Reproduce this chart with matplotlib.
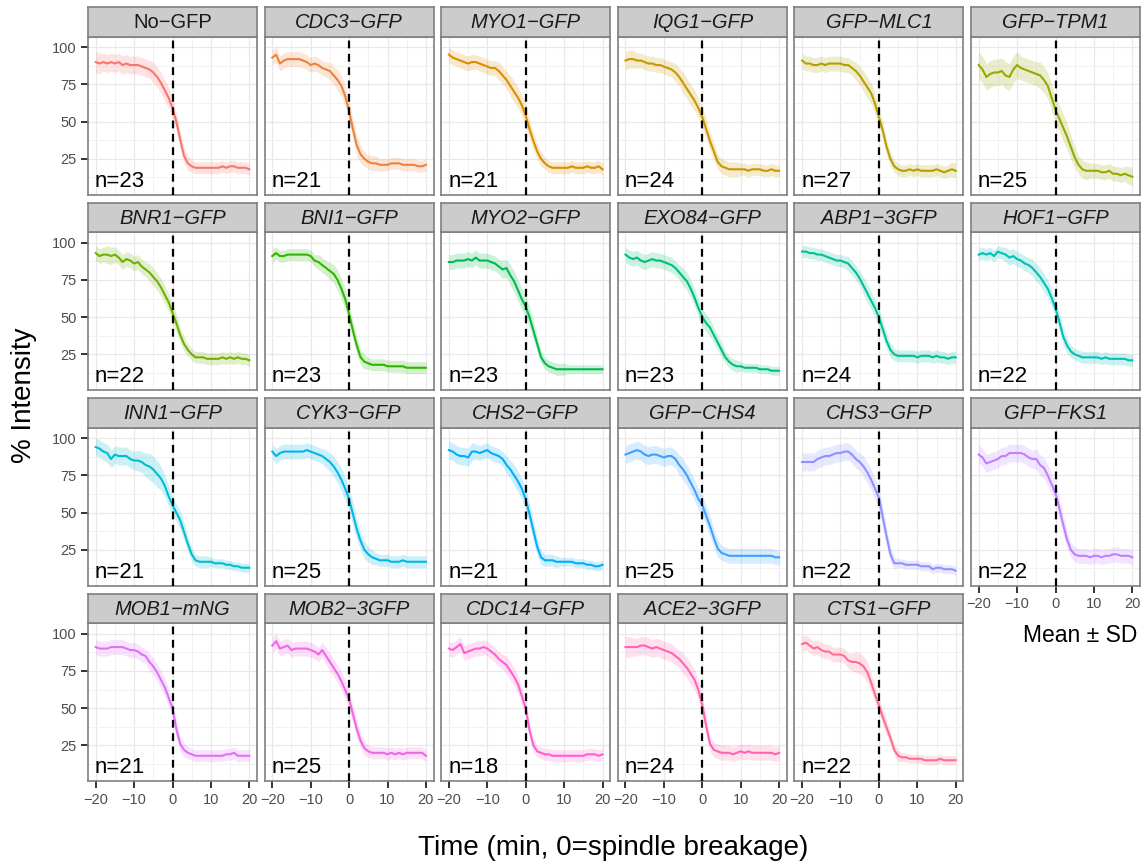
import numpy as np
import matplotlib
matplotlib.use("Agg")
import matplotlib.pyplot as plt

plt.rcParams['font.family'] = ['Liberation Sans', 'DejaVu Sans']

# ---------------- data ----------------
time = list(range(-20, 21))

labels = ["No−GFP", "CDC3−GFP", "MYO1−GFP", "IQG1−GFP", "GFP−MLC1", "GFP−TPM1",
          "BNR1−GFP", "BNI1−GFP", "MYO2−GFP", "EXO84−GFP", "ABP1−3GFP", "HOF1−GFP",
          "INN1−GFP", "CYK3−GFP", "CHS2−GFP", "GFP−CHS4", "CHS3−GFP", "GFP−FKS1",
          "MOB1−mNG", "MOB2−3GFP", "CDC14−GFP", "ACE2−3GFP", "CTS1−GFP"]
italic = [False] + [True] * 22
n_cells = [23, 21, 21, 24, 27, 25, 22, 23, 23, 23, 24, 22,
           21, 25, 21, 25, 22, 22, 21, 25, 18, 24, 22]

mean_no_gfp = [90, 89, 90, 89, 90, 89, 90, 88, 89, 88, 88, 88, 87, 86, 85, 83, 80, 76, 71, 66,
               59, 50, 38, 27, 22, 20, 19, 19, 19, 19, 19, 19, 19, 20, 19, 20, 20, 19, 19, 19, 18]
sd_no_gfp = [7, 7, 6, 6, 6, 6, 6, 6, 6, 6, 6, 6, 6, 6, 6, 7, 7, 7, 7, 7,
             7, 6, 6, 5, 5, 4, 4, 4, 4, 4, 4, 4, 4, 4, 4, 4, 4, 4, 4, 4, 4]

mean_cdc3 = [93, 95, 89, 91, 92, 92, 92, 92, 91, 90, 88, 89, 88, 86, 85, 84, 81, 78, 74, 67,
             57, 45, 34, 28, 25, 23, 22, 22, 21, 21, 21, 22, 22, 22, 21, 21, 21, 21, 20, 20, 21]
sd_cdc3 = [5, 5, 5, 5, 5, 5, 5, 5, 5, 5, 5, 5, 5, 5, 5, 6, 6, 7, 7, 7,
           7, 7, 7, 6, 5, 5, 5, 5, 4, 4, 4, 4, 4, 4, 4, 4, 4, 4, 4, 4, 4]

mean_myo1 = [95, 93, 92, 91, 90, 89, 90, 90, 89, 88, 87, 86, 86, 84, 81, 78, 74, 70, 66, 61,
             54, 45, 37, 30, 25, 22, 20, 19, 19, 19, 19, 19, 20, 19, 19, 19, 20, 19, 19, 20, 18]
sd_myo1 = [5, 5, 5, 5, 5, 5, 5, 5, 5, 5, 5, 5, 5, 6, 6, 6, 7, 7, 7, 7,
           7, 6, 6, 5, 5, 4, 4, 4, 4, 4, 4, 4, 4, 4, 4, 4, 4, 4, 4, 4, 4]

mean_iqg1 = [91, 92, 92, 91, 91, 90, 89, 89, 88, 88, 87, 86, 85, 83, 80, 76, 72, 68, 64, 59,
             53, 45, 37, 30, 23, 20, 19, 18, 18, 18, 18, 18, 17, 18, 18, 18, 17, 17, 18, 17, 17]
sd_iqg1 = [6, 6, 6, 5, 5, 5, 5, 5, 5, 5, 5, 5, 5, 6, 6, 7, 7, 7, 7, 7,
           7, 7, 6, 6, 5, 5, 5, 5, 5, 5, 4, 4, 4, 4, 4, 4, 4, 4, 4, 4, 4]

mean_mlc1 = [91, 89, 89, 88, 88, 89, 88, 89, 89, 89, 89, 88, 88, 86, 84, 81, 77, 73, 69, 62,
             53, 44, 33, 25, 20, 18, 17, 17, 18, 17, 18, 17, 17, 17, 17, 18, 17, 16, 17, 18, 17]
sd_mlc1 = [5, 5, 5, 5, 5, 5, 5, 5, 5, 5, 5, 5, 5, 5, 6, 6, 7, 7, 7, 7,
           6, 6, 5, 5, 4, 4, 4, 4, 4, 4, 4, 4, 4, 4, 4, 4, 4, 4, 4, 5, 5]

mean_tpm1 = [88, 85, 80, 82, 83, 83, 84, 81, 80, 85, 88, 86, 85, 84, 83, 82, 81, 78, 74, 66,
             58, 52, 46, 40, 33, 26, 21, 18, 17, 17, 17, 17, 16, 16, 17, 15, 15, 14, 15, 14, 13]
sd_tpm1 = [9, 9, 9, 9, 9, 9, 9, 9, 9, 9, 9, 8, 8, 8, 8, 8, 9, 9, 9, 9,
           9, 9, 9, 9, 8, 7, 6, 6, 6, 5, 5, 5, 5, 5, 5, 5, 5, 5, 5, 6, 6]

mean_bnr1 = [93, 91, 92, 92, 91, 92, 90, 87, 89, 88, 86, 87, 84, 82, 80, 77, 74, 70, 65, 60,
             53, 46, 38, 32, 28, 25, 23, 23, 23, 22, 22, 22, 22, 23, 22, 23, 22, 23, 22, 22, 21]
sd_bnr1 = [5, 5, 5, 6, 6, 5, 5, 5, 5, 5, 5, 5, 5, 5, 6, 6, 6, 6, 6, 6,
           6, 6, 5, 5, 4, 4, 4, 4, 4, 4, 4, 4, 4, 4, 4, 4, 4, 4, 4, 4, 4]

mean_bni1 = [91, 93, 91, 91, 92, 92, 92, 92, 92, 92, 91, 88, 87, 85, 83, 81, 79, 75, 69, 62,
             52, 41, 31, 23, 20, 19, 18, 18, 18, 18, 17, 17, 17, 17, 17, 16, 16, 16, 16, 16, 16]
sd_bni1 = [5, 4, 4, 4, 4, 4, 4, 4, 4, 4, 4, 4, 5, 5, 5, 6, 6, 7, 7, 7,
           7, 6, 6, 5, 5, 4, 4, 4, 4, 4, 4, 4, 4, 4, 4, 4, 4, 4, 4, 4, 4]

mean_myo2 = [87, 87, 88, 88, 88, 89, 88, 90, 88, 88, 88, 87, 86, 84, 82, 83, 78, 74, 68, 62,
             57, 50, 41, 32, 23, 19, 17, 16, 15, 15, 15, 15, 15, 15, 15, 15, 15, 15, 15, 15, 15]
sd_myo2 = [5, 5, 5, 5, 5, 5, 5, 5, 5, 5, 5, 5, 5, 5, 6, 6, 7, 7, 7, 7,
           7, 7, 6, 5, 4, 4, 4, 4, 4, 4, 4, 3, 3, 3, 3, 3, 3, 3, 3, 3, 3]

mean_exo84 = [92, 90, 89, 90, 88, 87, 88, 89, 88, 88, 87, 86, 85, 83, 80, 77, 74, 69, 63, 56,
              50, 46, 43, 38, 33, 28, 23, 20, 18, 17, 17, 16, 16, 16, 16, 15, 15, 15, 14, 14, 14]
sd_exo84 = [5, 5, 5, 5, 5, 5, 5, 5, 5, 5, 5, 5, 5, 5, 5, 6, 6, 6, 6, 6,
            6, 6, 6, 5, 5, 5, 4, 4, 4, 4, 3, 3, 3, 3, 3, 3, 3, 3, 3, 3, 3]

mean_abp1 = [94, 94, 93, 93, 92, 92, 91, 90, 89, 88, 88, 87, 86, 83, 80, 76, 71, 66, 61, 56,
             50, 42, 34, 28, 25, 24, 24, 24, 24, 24, 23, 24, 24, 24, 23, 24, 23, 23, 22, 23, 23]
sd_abp1 = [4, 4, 4, 4, 4, 4, 4, 4, 4, 4, 4, 4, 5, 5, 5, 5, 6, 6, 6, 6,
           6, 6, 5, 5, 4, 4, 4, 4, 4, 4, 4, 4, 4, 4, 4, 4, 4, 4, 4, 4, 4]

mean_hof1 = [92, 93, 92, 93, 91, 94, 93, 92, 90, 91, 89, 88, 86, 85, 83, 80, 77, 73, 69, 63,
             56, 47, 37, 31, 27, 25, 24, 23, 23, 23, 23, 23, 22, 23, 22, 22, 22, 22, 22, 21, 21]
sd_hof1 = [4, 4, 4, 4, 4, 4, 4, 5, 5, 5, 5, 5, 5, 5, 6, 6, 6, 6, 6, 6,
           6, 6, 6, 5, 4, 4, 4, 4, 4, 4, 4, 4, 4, 4, 4, 4, 4, 4, 4, 4, 4]

mean_inn1 = [94, 93, 91, 90, 86, 89, 88, 88, 88, 86, 85, 85, 84, 82, 81, 79, 76, 73, 68, 61,
             55, 50, 45, 37, 29, 22, 18, 17, 17, 17, 17, 16, 16, 16, 15, 15, 14, 14, 13, 13, 13]
sd_inn1 = [6, 6, 6, 6, 6, 6, 6, 6, 6, 6, 6, 7, 7, 8, 9, 9, 9, 8, 7, 7,
           6, 6, 6, 6, 5, 5, 4, 4, 4, 4, 3, 3, 3, 3, 3, 3, 3, 3, 3, 3, 3]

mean_cyk3 = [91, 88, 90, 91, 91, 91, 91, 91, 91, 92, 91, 90, 89, 88, 86, 84, 81, 77, 72, 66,
             59, 49, 39, 31, 25, 22, 20, 19, 18, 18, 18, 17, 17, 17, 18, 17, 17, 17, 17, 17, 17]
sd_cyk3 = [5, 5, 5, 5, 5, 5, 5, 5, 5, 5, 5, 5, 5, 5, 6, 6, 7, 7, 8, 8,
           8, 8, 7, 6, 6, 5, 5, 4, 4, 4, 4, 4, 4, 4, 4, 4, 4, 4, 4, 4, 4]

mean_chs2 = [92, 91, 89, 88, 88, 87, 91, 91, 90, 91, 92, 90, 89, 88, 86, 82, 79, 75, 71, 66,
             59, 49, 38, 27, 20, 18, 18, 18, 17, 17, 17, 17, 17, 16, 16, 16, 15, 15, 14, 14, 15]
sd_chs2 = [6, 6, 6, 6, 6, 6, 6, 5, 5, 5, 5, 5, 5, 5, 5, 6, 6, 7, 7, 7,
           7, 7, 7, 6, 5, 4, 4, 4, 4, 3, 3, 3, 3, 3, 3, 3, 3, 3, 3, 3, 3]

mean_chs4 = [89, 90, 91, 92, 91, 89, 88, 89, 89, 88, 87, 88, 88, 86, 82, 79, 75, 70, 65, 59,
             55, 48, 41, 33, 26, 23, 22, 21, 21, 21, 21, 21, 21, 21, 21, 21, 21, 21, 21, 20, 20]
sd_chs4 = [6, 6, 6, 6, 6, 6, 6, 6, 6, 6, 6, 6, 6, 6, 7, 7, 7, 7, 7, 7,
           7, 7, 7, 6, 6, 5, 5, 5, 5, 5, 5, 5, 5, 5, 5, 5, 5, 5, 5, 5, 5]

mean_chs3 = [84, 84, 84, 84, 86, 87, 88, 88, 89, 90, 90, 91, 91, 89, 86, 84, 81, 77, 72, 66,
             60, 47, 34, 22, 16, 16, 16, 15, 15, 15, 15, 14, 14, 14, 12, 13, 13, 12, 12, 12, 11]
sd_chs3 = [6, 6, 6, 6, 6, 6, 6, 6, 6, 6, 6, 6, 6, 6, 6, 6, 7, 7, 7, 7,
           7, 7, 6, 5, 4, 3, 3, 3, 3, 3, 3, 3, 3, 3, 3, 3, 3, 3, 3, 3, 3]

mean_fks1 = [89, 87, 83, 84, 85, 86, 88, 88, 90, 90, 90, 90, 89, 87, 86, 86, 82, 80, 75, 69,
             63, 53, 42, 32, 25, 22, 21, 21, 21, 20, 21, 21, 20, 21, 21, 22, 22, 21, 21, 21, 20]
sd_fks1 = [6, 6, 6, 6, 6, 6, 6, 6, 6, 6, 6, 6, 6, 6, 6, 7, 7, 7, 7, 7,
           7, 7, 7, 6, 5, 5, 5, 5, 5, 5, 5, 5, 5, 5, 5, 5, 5, 5, 5, 5, 5]

mean_mob1 = [91, 90, 90, 90, 91, 91, 91, 91, 90, 89, 89, 88, 86, 85, 81, 78, 74, 69, 64, 57,
             50, 36, 26, 22, 20, 19, 18, 18, 18, 18, 18, 18, 18, 18, 19, 19, 20, 18, 18, 18, 18]
sd_mob1 = [5, 5, 5, 5, 5, 5, 5, 5, 5, 5, 5, 5, 5, 5, 6, 6, 6, 6, 6, 6,
           6, 6, 5, 5, 4, 4, 4, 4, 4, 4, 4, 4, 4, 4, 4, 4, 4, 4, 4, 4, 4]

mean_mob2 = [92, 95, 90, 91, 92, 89, 90, 90, 90, 90, 89, 88, 86, 89, 85, 81, 77, 73, 68, 62,
             56, 46, 36, 28, 23, 21, 20, 20, 20, 20, 19, 20, 19, 20, 19, 20, 20, 20, 20, 20, 18]
sd_mob2 = [5, 5, 5, 5, 5, 5, 5, 5, 5, 5, 5, 5, 5, 5, 6, 6, 6, 6, 6, 6,
           6, 6, 6, 5, 5, 4, 4, 4, 4, 4, 4, 4, 4, 4, 4, 4, 4, 4, 4, 4, 4]

mean_cdc14 = [90, 89, 91, 93, 87, 88, 89, 90, 90, 91, 90, 88, 86, 83, 81, 79, 75, 71, 66, 58,
              50, 35, 25, 21, 20, 19, 19, 18, 18, 18, 18, 18, 18, 18, 18, 18, 19, 19, 19, 18, 19]
sd_cdc14 = [5, 5, 5, 5, 5, 5, 5, 5, 5, 5, 5, 5, 5, 5, 5, 6, 6, 6, 6, 6,
            6, 5, 5, 4, 4, 4, 4, 4, 4, 4, 4, 4, 4, 4, 4, 4, 4, 4, 4, 4, 4]

mean_ace2 = [91, 91, 91, 91, 92, 92, 91, 90, 91, 90, 89, 88, 87, 85, 83, 80, 77, 73, 69, 62,
             52, 38, 26, 22, 21, 20, 20, 20, 19, 20, 21, 20, 21, 20, 20, 20, 20, 20, 20, 19, 20]
sd_ace2 = [7, 7, 6, 6, 6, 6, 6, 6, 6, 6, 6, 6, 6, 6, 6, 7, 7, 7, 7, 7,
           7, 6, 5, 5, 5, 5, 5, 5, 5, 5, 5, 5, 5, 5, 5, 5, 5, 5, 5, 5, 5]

mean_cts1 = [93, 94, 92, 90, 91, 89, 88, 88, 86, 86, 86, 85, 82, 81, 81, 80, 78, 74, 67, 59,
             52, 44, 37, 30, 22, 18, 17, 17, 16, 16, 16, 16, 15, 15, 15, 15, 16, 15, 15, 15, 15]
sd_cts1 = [5, 5, 5, 5, 5, 5, 5, 5, 5, 5, 5, 5, 5, 6, 7, 7, 7, 7, 6, 6,
           6, 5, 5, 4, 4, 4, 3, 3, 3, 3, 3, 3, 3, 3, 3, 3, 3, 3, 3, 3, 3]

means = [mean_no_gfp, mean_cdc3, mean_myo1, mean_iqg1, mean_mlc1, mean_tpm1,
         mean_bnr1, mean_bni1, mean_myo2, mean_exo84, mean_abp1, mean_hof1,
         mean_inn1, mean_cyk3, mean_chs2, mean_chs4, mean_chs3, mean_fks1,
         mean_mob1, mean_mob2, mean_cdc14, mean_ace2, mean_cts1]
sds = [sd_no_gfp, sd_cdc3, sd_myo1, sd_iqg1, sd_mlc1, sd_tpm1,
       sd_bnr1, sd_bni1, sd_myo2, sd_exo84, sd_abp1, sd_hof1,
       sd_inn1, sd_cyk3, sd_chs2, sd_chs4, sd_chs3, sd_fks1,
       sd_mob1, sd_mob2, sd_cdc14, sd_ace2, sd_cts1]


# ---------------- ggplot default hue palette ----------------
def hcl_to_hex(h, c, l):
    Xn, Yn, Zn = 95.047, 100.0, 108.883
    un = 4 * Xn / (Xn + 15 * Yn + 3 * Zn)
    vn = 9 * Yn / (Xn + 15 * Yn + 3 * Zn)
    hr = np.radians(h)
    U, V = c * np.cos(hr), c * np.sin(hr)
    Y = Yn * ((l + 16) / 116) ** 3 if l > 8 else Yn * l / 903.3
    u = U / (13 * l) + un
    v = V / (13 * l) + vn
    X = 9.0 * Y * u / (4 * v)
    Z = -X / 3 - 5 * Y + 3 * Y / v
    X, Y, Z = X / 100, Y / 100, Z / 100
    rgb = [3.240479 * X - 1.537150 * Y - 0.498535 * Z,
           -0.969256 * X + 1.875992 * Y + 0.041556 * Z,
           0.055648 * X - 0.204043 * Y + 1.057311 * Z]
    out = []
    for ch in rgb:
        ch = 12.92 * ch if ch <= 0.0031308 else 1.055 * ch ** (1 / 2.4) - 0.055
        out.append(min(max(ch, 0), 1))
    return tuple(out)


n_series = len(labels)
hues = np.linspace(15, 375, n_series + 1)[:-1] % 360
colors = [hcl_to_hex(h, 100, 65) for h in hues]

# ---------------- figure ----------------
W, H = 1144, 865
fig = plt.figure(figsize=(W / 100, H / 100), dpi=100)

col_left0, col_step, pw = 88.0, 176.6, 169.0
row_top0, row_step, sh, ph = 7.3, 195.5, 29.3, 158.3
border = '#7F7F7F'

for i in range(n_series):
    r, c = divmod(i, 6)
    left = col_left0 + c * col_step
    st = row_top0 + r * row_step
    sb = st + sh
    pb = sb + ph
    ax = fig.add_axes([left / W, 1 - pb / H, pw / W, ph / H])
    sax = fig.add_axes([left / W, 1 - sb / H, pw / W, sh / H])

    m = np.array(means[i], dtype=float)
    s = np.array(sds[i], dtype=float)
    ax.fill_between(time, m - s, m + s, color=colors[i], alpha=0.2, lw=0, zorder=2)
    ax.plot(time, m, color=colors[i], lw=1.5, zorder=3)
    ax.axvline(0, color='black', lw=1.6, ls=(0, (3.5, 2.5)), zorder=4)
    ax.text(-20.2, 6.4, f"n={n_cells[i]}", fontsize=16, ha='left', va='baseline',
            color='black', zorder=5)

    ax.set_xlim(-22, 22)
    ax.set_ylim(0.8, 107.1)
    ax.set_xticks([-20, -10, 0, 10, 20])
    ax.set_xticks([-15, -5, 5, 15], minor=True)
    ax.set_yticks([25, 50, 75, 100])
    ax.set_yticks([12.5, 37.5, 62.5, 87.5], minor=True)
    ax.grid(which='major', color='#E8E8E8', lw=0.9, zorder=0)
    ax.grid(which='minor', color='#F2F2F2', lw=0.7, zorder=0)
    ax.set_axisbelow(True)
    for sp in ax.spines.values():
        sp.set_color(border)
        sp.set_linewidth(1.2)
    ax.tick_params(which='minor', length=0)

    show_x = (r == 3) or (i == 17)
    show_y = (c == 0)
    ax.tick_params(axis='x', which='major', length=5 if show_x else 0, width=1.4,
                   color='#333333', labelsize=10.5, labelcolor='#4D4D4D',
                   labelbottom=show_x, pad=3)
    ax.tick_params(axis='y', which='major', length=5 if show_y else 0, width=1.4,
                   color='#333333', labelsize=10.5, labelcolor='#4D4D4D',
                   labelleft=show_y, pad=3)

    sax.set_facecolor('#CCCCCC')
    sax.set_xticks([])
    sax.set_yticks([])
    for sp in sax.spines.values():
        sp.set_color(border)
        sp.set_linewidth(1.2)
    sax.text(0.5, 0.47, labels[i], transform=sax.transAxes, ha='center', va='center',
             fontsize=14.5, color='#1A1A1A', style='italic' if italic[i] else 'normal')

fig.text(613 / W, 1 - 848 / H, "Time (min, 0=spindle breakage)", ha='center',
         va='center', fontsize=20, color='black')
fig.text(24 / W, 1 - 395 / H, "% Intensity", rotation=90, ha='center', va='center',
         fontsize=20, color='black')
fig.text(1080 / W, 1 - 636 / H, "Mean ± SD", ha='center', va='center', fontsize=16.5,
         color='black')

fig.savefig("out.png", dpi=100, facecolor='white')
